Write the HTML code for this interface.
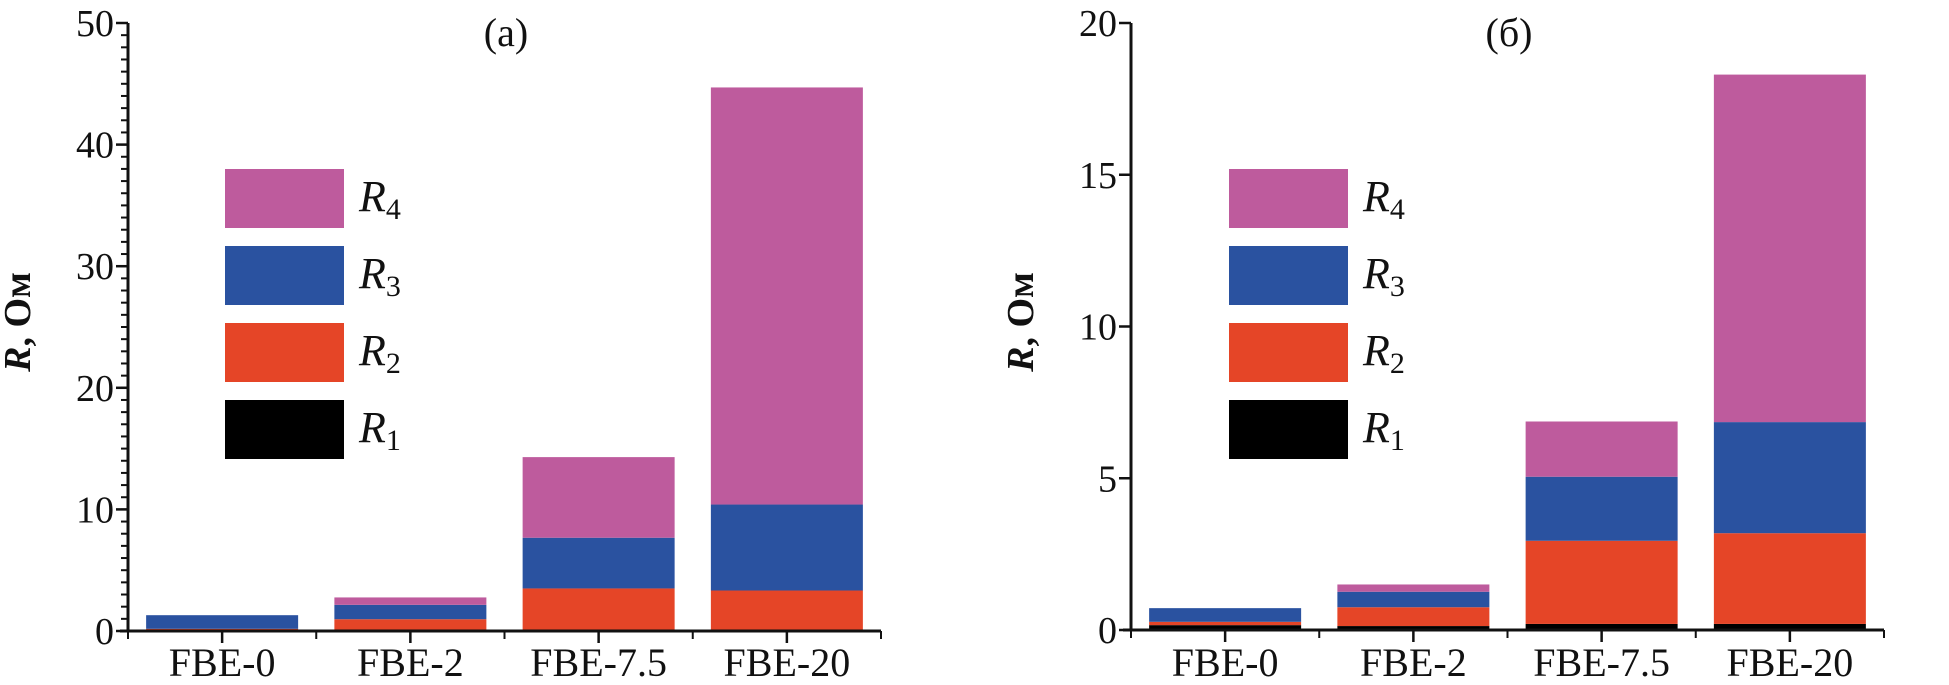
<!DOCTYPE html>
<html><head><meta charset="utf-8">
<style>
html,body{margin:0;padding:0;background:#fff;}
svg, svg text, svg tspan{font-family:"Liberation Serif","Times New Roman",Times,serif;}
</style></head>
<body>
<svg id="chart" width="1949" height="680" xmlns="http://www.w3.org/2000/svg" font-family="Liberation Serif, Times New Roman, serif"></svg>
<script>
const categories = ["FBE-0","FBE-2","FBE-7.5","FBE-20"];
const seriesNames = ["R1","R2","R3","R4"];
const colors = ["#000000","#e54527","#2a52a0","#be5b9d"];
// panel (a) component values
const aR1 = [0.05,0.05,0.05,0.05];
const aR2 = [0.13,0.92,3.45,3.28];
const aR3 = [1.12,1.18,4.17,7.07];
const aR4 = [0.0,0.61,6.63,34.3];
// panel (b) component values
const bR1 = [0.16,0.13,0.2,0.2];
const bR2 = [0.11,0.62,2.74,2.99];
const bR3 = [0.45,0.51,2.11,3.66];
const bR4 = [0.0,0.24,1.82,11.45];
const aTicks = [0,10,20,30,40,50];
const bTicks = [0,5,10,15,20];

const svg = document.getElementById('chart');
const NS = "http://www.w3.org/2000/svg";
const FF = '"Liberation Serif", "Times New Roman", serif';
function mk(tag, attrs, parent){
  const e = document.createElementNS(NS, tag);
  for (const k in attrs) e.setAttribute(k, attrs[k]);
  if (tag === 'text') e.style.fontFamily = FF;
  (parent||svg).appendChild(e);
  return e;
}

function panel(p){
  const g = mk('g', {});
  
  
  const y = v => p.y0 - (v / p.max) * (p.y0 - p.yTop);
  const band = (p.xEnd - p.x0) / categories.length;
  const xb = i => p.x0 + band * i + (band - p.barW) / 2;
  const series = p.series;
  categories.forEach((c, i) => {
    let acc = 0;
    series.forEach((arr, s) => {
      const v = arr[i];
      if (v <= 0) return;
      const r = mk('rect', {x: xb(i), y: y(acc + v), width: p.barW, height: y(acc) - y(acc + v), fill: colors[s]}, g);
      
      
      acc += v;
    });
  });
  const ya = mk('line', {x1: p.x0, y1: p.y0, x2: p.x0, y2: p.yTop, stroke: '#111', 'stroke-width': 3}, g);
  
  
  const xa = mk('line', {x1: p.x0 - 8, y1: p.y0, x2: p.xEnd, y2: p.y0, stroke: '#111', 'stroke-width': 3}, g);
  
  
  if (p.minor) {
    for (let v = 0; v <= p.max; v += p.minor) {
      mk('line', {x1: p.x0 - 7, y1: y(v), x2: p.x0, y2: y(v), stroke: '#111', 'stroke-width': 2}, g);
    }
  }
  p.ticks.forEach(t => {
    mk('line', {x1: p.x0 - 12, y1: y(t), x2: p.x0, y2: y(t), stroke: '#111', 'stroke-width': 2.5}, g);
    const tx = mk('text', {x: p.x0 - 14, y: y(t) + 13, 'font-size': 38, 'text-anchor': 'end', fill: '#111'}, g);
    tx.textContent = t;
    
    
  });
  for (let i = 0; i <= categories.length; i++) {
    mk('line', {x1: p.x0 + band * i, y1: p.y0, x2: p.x0 + band * i, y2: p.y0 + 8, stroke: '#111', 'stroke-width': 2}, g);
  }
  categories.forEach((c, i) => {
    const cx = p.x0 + band * (i + 0.5);
    mk('line', {x1: cx, y1: p.y0, x2: cx, y2: p.y0 + 12, stroke: '#111', 'stroke-width': 2.5}, g);
    const tx = mk('text', {x: cx, y: 676, 'font-size': 40, 'text-anchor': 'middle', fill: '#111'}, g);
    tx.textContent = c;
    
    
  });
  const tt = mk('text', {x: p.titleX, y: 46, 'font-size': 40, 'text-anchor': 'middle', fill: '#111'}, g);
  tt.textContent = p.title;
  
  
  const yl = mk('text', {x: 0, y: 0, 'font-size': 38, 'text-anchor': 'middle', fill: '#111', 'font-weight': 'bold', transform: `translate(${p.ylX},322) rotate(-90)`}, g);
  yl.innerHTML = '<tspan font-style="italic">R</tspan>, Ом';
  
  
  const ly = [169, 246, 323, 400];
  const order = [3, 2, 1, 0];
  order.forEach((s, k) => {
    const lg = mk('g', {}, g);
    
    
    mk('rect', {x: p.legX, y: ly[k], width: 119, height: 59, fill: colors[s]}, lg);
    const lt = mk('text', {x: p.legX + 134, y: ly[k] + 42, 'font-size': 44, fill: '#111'}, lg);
    lt.innerHTML = '<tspan font-style="italic">R</tspan><tspan font-size="30" dy="8">' + (s + 1) + '</tspan>';
  });
}

panel({name: 'panel-a', x0: 128, xEnd: 881, y0: 631, yTop: 23, max: 50, barW: 152, minor: 1, ticks: aTicks,
  series: [aR1, aR2, aR3, aR4], title: '(a)', titleX: 506, ylX: 30, legX: 225});
panel({name: 'panel-b', x0: 1131, xEnd: 1884, y0: 630, yTop: 23, max: 20, barW: 152, minor: 0, ticks: bTicks,
  series: [bR1, bR2, bR3, bR4], title: '(б)', titleX: 1509, ylX: 1033, legX: 1229});
</script>
</body></html>
